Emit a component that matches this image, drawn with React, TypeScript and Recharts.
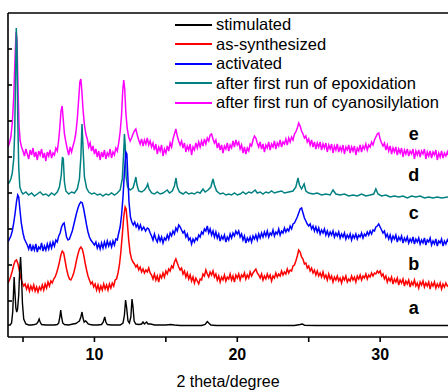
import React from "react"
import { LineChart, Line, XAxis, YAxis, Legend, ReferenceDot } from "recharts"

// 2 theta (deg) vs intensity (arb. units, offset per pattern)
const stimulated: [number, number][] = [
  [3.95, 12], [4.1, 12], [4.2, 14], [4.28, 25], [4.34, 46], [4.38, 60], [4.43, 46], [4.5, 29], [4.56, 25], [4.62, 28],
  [4.7, 42], [4.77, 68], [4.83, 80], [4.89, 63], [4.96, 34], [5.05, 18], [5.2, 13], [5.4, 12], [5.6, 12], [5.8, 12.5],
  [5.95, 13], [6.05, 15], [6.13, 18], [6.2, 15], [6.3, 12.5], [6.6, 12], [6.9, 12], [7.2, 12], [7.4, 12.5], [7.5, 14],
  [7.58, 20], [7.64, 27], [7.7, 20], [7.78, 14], [7.9, 12.5], [8.2, 12], [8.5, 13], [8.7, 13.5], [8.85, 15], [8.95, 16],
  [9.05, 20], [9.13, 25], [9.2, 19], [9.28, 15], [9.38, 16], [9.46, 15], [9.56, 13], [9.7, 12.5], [9.9, 12], [10.2, 12],
  [10.5, 12.5], [10.62, 15], [10.72, 20], [10.8, 15], [10.9, 12.5], [11.2, 12], [11.5, 12], [11.8, 12], [12.0, 14], [12.1, 22],
  [12.18, 37], [12.25, 30], [12.35, 16], [12.45, 14], [12.55, 20], [12.63, 38], [12.7, 30], [12.78, 16], [12.9, 13], [13.1, 12.5],
  [13.3, 13], [13.4, 15], [13.5, 13], [13.65, 15], [13.75, 13], [13.95, 13], [14.2, 12], [14.6, 12], [15.0, 12], [15.35, 12.5],
  [15.6, 12], [16.0, 11.5], [16.5, 11.5], [17.0, 11.5], [17.5, 11.5], [17.75, 12.5], [17.9, 15.5], [18.0, 14], [18.15, 12], [18.5, 11.5],
  [19.0, 11.5], [20.0, 11.5], [21.0, 11.5], [22.0, 11.5], [23.0, 11.5], [24.0, 11.5], [24.4, 12.5], [24.55, 13], [24.7, 11.8], [25.5, 11.5],
  [27.0, 11.5], [28.5, 11.5], [30.0, 11.5], [31.5, 11.5], [33.0, 11.5], [34.75, 11.5],
]

const asSynthesized: [number, number][] = [
  [3.95, 54], [4.05, 57], [4.15, 61], [4.25, 66], [4.35, 72], [4.45, 76], [4.55, 77], [4.65, 73], [4.75, 66], [4.85, 59],
  [4.95, 54], [5.05, 51], [5.15, 53], [5.25, 48], [5.35, 52], [5.45, 46], [5.55, 51], [5.65, 47], [5.75, 52], [5.85, 46],
  [5.95, 50], [6.05, 45], [6.15, 50], [6.25, 47], [6.35, 52], [6.45, 47], [6.55, 53], [6.65, 49], [6.75, 55], [6.85, 51],
  [6.95, 56], [7.05, 54], [7.15, 58], [7.25, 60], [7.35, 64], [7.45, 69], [7.55, 75], [7.65, 82], [7.75, 86], [7.85, 84],
  [7.95, 76], [8.05, 68], [8.15, 62], [8.25, 58], [8.35, 57], [8.45, 60], [8.55, 64], [8.65, 70], [8.75, 77], [8.85, 83],
  [8.95, 88], [9.05, 90], [9.15, 88], [9.25, 82], [9.35, 74], [9.45, 67], [9.55, 61], [9.65, 57], [9.75, 53], [9.85, 55],
  [9.95, 50], [10.05, 53], [10.15, 47], [10.25, 52], [10.35, 46], [10.45, 51], [10.55, 47], [10.65, 53], [10.75, 48], [10.85, 52],
  [10.95, 47], [11.05, 53], [11.15, 49], [11.25, 54], [11.35, 51], [11.45, 57], [11.55, 58], [11.65, 64], [11.75, 72], [11.85, 85],
  [11.95, 102], [12.05, 120], [12.15, 130], [12.22, 128], [12.3, 115], [12.4, 97], [12.5, 84], [12.6, 78], [12.7, 75], [12.8, 73],
  [12.9, 70], [13.0, 72], [13.1, 67], [13.2, 70], [13.3, 65], [13.4, 68], [13.5, 64], [13.6, 67], [13.7, 65], [13.8, 69],
  [13.9, 64], [14.0, 62], [14.1, 58], [14.2, 63], [14.3, 57], [14.4, 61], [14.5, 55], [14.6, 62], [14.7, 59], [14.8, 64],
  [14.9, 60], [15.0, 66], [15.1, 63], [15.2, 68], [15.3, 66], [15.4, 71], [15.5, 69], [15.6, 75], [15.7, 78], [15.8, 74],
  [15.9, 70], [16.0, 67], [16.1, 69], [16.2, 63], [16.3, 66], [16.4, 60], [16.5, 64], [16.6, 58], [16.7, 62], [16.8, 56],
  [16.9, 60], [17.0, 54], [17.1, 59], [17.2, 56], [17.3, 53], [17.4, 58], [17.5, 57], [17.6, 63], [17.7, 61], [17.8, 67],
  [17.9, 63], [18.0, 60], [18.1, 65], [18.2, 62], [18.3, 66], [18.4, 60], [18.5, 63], [18.6, 57], [18.7, 61], [18.8, 55],
  [18.9, 60], [19.0, 57], [19.1, 62], [19.2, 56], [19.3, 60], [19.4, 58], [19.5, 63], [19.6, 57], [19.7, 61], [19.8, 55],
  [19.9, 62], [20.0, 59], [20.1, 63], [20.2, 57], [20.3, 62], [20.4, 60], [20.5, 64], [20.6, 58], [20.7, 62], [20.8, 59],
  [20.9, 65], [21.0, 61], [21.1, 64], [21.2, 66], [21.3, 68], [21.4, 64], [21.5, 62], [21.6, 59], [21.7, 63], [21.8, 57],
  [21.9, 61], [22.0, 58], [22.1, 63], [22.2, 59], [22.3, 62], [22.4, 56], [22.5, 61], [22.6, 59], [22.7, 64], [22.8, 60],
  [22.9, 63], [23.0, 61], [23.1, 66], [23.2, 62], [23.3, 65], [23.4, 63], [23.5, 68], [23.6, 64], [23.7, 67], [23.8, 66],
  [23.9, 71], [24.0, 72], [24.1, 76], [24.2, 81], [24.3, 87], [24.4, 85], [24.5, 80], [24.6, 78], [24.7, 73], [24.8, 74],
  [24.9, 69], [25.0, 71], [25.1, 66], [25.2, 69], [25.3, 64], [25.4, 67], [25.5, 62], [25.6, 66], [25.7, 61], [25.8, 64],
  [25.9, 60], [26.0, 65], [26.1, 59], [26.2, 62], [26.3, 57], [26.4, 63], [26.5, 58], [26.6, 61], [26.7, 55], [26.8, 60],
  [26.9, 57], [27.0, 61], [27.1, 56], [27.2, 59], [27.3, 54], [27.4, 60], [27.5, 57], [27.6, 61], [27.7, 55], [27.8, 58],
  [27.9, 56], [28.0, 61], [28.1, 57], [28.2, 60], [28.3, 55], [28.4, 61], [28.5, 58], [28.6, 62], [28.7, 57], [28.8, 61],
  [28.9, 59], [29.0, 63], [29.1, 58], [29.2, 62], [29.3, 60], [29.4, 64], [29.5, 61], [29.6, 64], [29.7, 63], [29.8, 66],
  [29.9, 64], [30.0, 66], [30.1, 61], [30.2, 63], [30.3, 58], [30.4, 61], [30.5, 55], [30.6, 59], [30.7, 56], [30.8, 60],
  [30.9, 53], [31.0, 58], [31.1, 55], [31.2, 59], [31.3, 52], [31.4, 57], [31.5, 54], [31.6, 58], [31.7, 51], [31.8, 56],
  [31.9, 53], [32.0, 57], [32.1, 50], [32.2, 55], [32.3, 52], [32.4, 57], [32.5, 51], [32.6, 54], [32.7, 49], [32.8, 55],
  [32.9, 52], [33.0, 56], [33.1, 50], [33.2, 54], [33.3, 51], [33.4, 55], [33.5, 48], [33.6, 54], [33.7, 51], [33.8, 55],
  [33.9, 49], [34.0, 53], [34.1, 50], [34.2, 54], [34.3, 48], [34.4, 53], [34.5, 50], [34.6, 54], [34.7, 51], [34.75, 52],
]

const activated: [number, number][] = [
  [3.95, 95], [4.05, 98], [4.15, 101], [4.25, 106], [4.35, 114], [4.45, 124], [4.55, 136], [4.63, 142], [4.7, 140], [4.78, 128],
  [4.88, 114], [5.0, 104], [5.1, 98], [5.2, 95], [5.3, 92], [5.4, 88], [5.5, 93], [5.6, 86], [5.7, 91], [5.8, 87],
  [5.9, 93], [6.0, 85], [6.1, 90], [6.2, 88], [6.3, 94], [6.4, 86], [6.5, 91], [6.6, 87], [6.7, 93], [6.8, 88],
  [6.9, 94], [7.0, 89], [7.1, 95], [7.2, 91], [7.3, 97], [7.4, 95], [7.5, 101], [7.6, 104], [7.7, 110], [7.8, 113],
  [7.88, 114], [7.96, 107], [8.05, 100], [8.15, 97], [8.25, 98], [8.35, 102], [8.45, 106], [8.55, 112], [8.65, 118], [8.75, 124],
  [8.85, 129], [8.95, 133], [9.05, 135], [9.15, 134], [9.25, 128], [9.35, 120], [9.45, 112], [9.55, 105], [9.65, 100], [9.75, 97],
  [9.85, 95], [10.0, 92], [10.1, 95], [10.2, 89], [10.3, 93], [10.4, 88], [10.5, 94], [10.6, 89], [10.7, 95], [10.8, 90],
  [10.9, 96], [11.0, 91], [11.1, 95], [11.2, 90], [11.3, 96], [11.4, 92], [11.5, 98], [11.6, 97], [11.7, 104], [11.8, 110],
  [11.9, 122], [12.0, 140], [12.1, 165], [12.2, 185], [12.27, 183], [12.34, 160], [12.42, 135], [12.52, 120], [12.62, 115], [12.72, 112],
  [12.82, 115], [12.92, 110], [13.02, 113], [13.12, 108], [13.22, 112], [13.32, 107], [13.45, 110], [13.58, 106], [13.7, 109], [13.8, 108],
  [13.9, 104], [14.0, 101], [14.1, 97], [14.2, 103], [14.3, 98], [14.4, 95], [14.5, 101], [14.6, 96], [14.7, 100], [14.8, 94],
  [14.9, 99], [15.0, 97], [15.1, 102], [15.2, 98], [15.3, 104], [15.4, 101], [15.5, 106], [15.6, 103], [15.7, 109], [15.8, 106],
  [15.9, 112], [16.0, 110], [16.1, 107], [16.2, 104], [16.3, 106], [16.4, 100], [16.5, 103], [16.6, 97], [16.7, 99], [16.8, 93],
  [16.9, 98], [17.0, 95], [17.1, 99], [17.2, 97], [17.3, 102], [17.4, 100], [17.5, 105], [17.6, 103], [17.7, 108], [17.8, 106],
  [17.9, 111], [18.0, 104], [18.1, 108], [18.2, 102], [18.3, 106], [18.4, 100], [18.5, 105], [18.6, 99], [18.7, 103], [18.8, 96],
  [18.9, 101], [19.0, 98], [19.1, 102], [19.2, 95], [19.3, 100], [19.4, 97], [19.5, 103], [19.6, 99], [19.7, 104], [19.8, 101],
  [19.9, 106], [20.0, 103], [20.1, 106], [20.2, 100], [20.3, 103], [20.4, 97], [20.5, 101], [20.6, 94], [20.7, 99], [20.8, 96],
  [20.9, 100], [21.0, 95], [21.1, 101], [21.2, 98], [21.3, 102], [21.4, 97], [21.5, 103], [21.6, 99], [21.7, 104], [21.8, 100],
  [21.9, 105], [22.0, 101], [22.1, 106], [22.2, 100], [22.3, 104], [22.4, 102], [22.5, 107], [22.6, 101], [22.7, 105], [22.8, 103],
  [22.9, 108], [23.0, 102], [23.1, 106], [23.2, 104], [23.3, 109], [23.4, 105], [23.5, 108], [23.6, 106], [23.7, 111], [23.8, 108],
  [23.9, 113], [24.0, 114], [24.1, 117], [24.2, 120], [24.3, 124], [24.4, 128], [24.5, 129], [24.6, 124], [24.7, 119], [24.8, 116],
  [24.9, 113], [25.0, 111], [25.1, 113], [25.2, 108], [25.3, 111], [25.4, 106], [25.5, 110], [25.6, 105], [25.7, 109], [25.8, 103],
  [25.9, 107], [26.0, 104], [26.1, 108], [26.2, 102], [26.3, 106], [26.4, 101], [26.5, 105], [26.6, 102], [26.7, 106], [26.8, 100],
  [26.9, 104], [27.0, 101], [27.1, 105], [27.2, 99], [27.3, 103], [27.4, 100], [27.5, 104], [27.6, 98], [27.7, 102], [27.8, 99],
  [27.9, 103], [28.0, 97], [28.1, 102], [28.2, 99], [28.3, 103], [28.4, 98], [28.5, 102], [28.6, 100], [28.7, 104], [28.8, 99],
  [28.9, 103], [29.0, 101], [29.1, 105], [29.2, 102], [29.3, 106], [29.4, 103], [29.5, 107], [29.6, 106], [29.7, 110], [29.8, 111],
  [29.9, 113], [30.0, 110], [30.1, 107], [30.2, 104], [30.3, 106], [30.4, 100], [30.5, 103], [30.6, 98], [30.7, 102], [30.8, 96],
  [30.9, 101], [31.0, 98], [31.1, 102], [31.2, 95], [31.3, 100], [31.4, 97], [31.5, 101], [31.6, 94], [31.7, 99], [31.8, 96],
  [31.9, 100], [32.0, 94], [32.1, 98], [32.2, 95], [32.3, 100], [32.4, 93], [32.5, 98], [32.6, 95], [32.7, 99], [32.8, 93],
  [32.9, 97], [33.0, 94], [33.1, 99], [33.2, 92], [33.3, 97], [33.4, 95], [33.5, 99], [33.6, 92], [33.7, 96], [33.8, 93],
  [33.9, 98], [34.0, 91], [34.1, 96], [34.2, 94], [34.3, 98], [34.4, 91], [34.5, 96], [34.6, 93], [34.7, 97], [34.75, 95],
]

const epoxidation: [number, number][] = [
  [3.95, 153], [4.05, 155], [4.15, 158], [4.25, 164], [4.35, 178], [4.42, 205], [4.48, 260], [4.53, 309], [4.58, 290], [4.63, 220],
  [4.7, 170], [4.78, 150], [4.9, 145], [5.0, 143], [5.2, 145], [5.4, 142], [5.6, 144], [5.8, 141], [6.0, 143], [6.2, 145],
  [6.4, 142], [6.6, 143], [6.8, 141], [7.0, 144], [7.2, 142], [7.4, 145], [7.55, 150], [7.68, 162], [7.76, 180], [7.82, 178],
  [7.9, 155], [8.0, 146], [8.2, 143], [8.4, 145], [8.6, 144], [8.8, 148], [8.95, 158], [9.05, 180], [9.13, 213], [9.2, 190],
  [9.3, 160], [9.45, 149], [9.6, 145], [9.8, 143], [10.0, 144], [10.2, 142], [10.4, 143], [10.6, 141], [10.8, 143], [11.0, 142],
  [11.2, 144], [11.4, 142], [11.6, 144], [11.8, 147], [11.95, 158], [12.05, 185], [12.1, 203], [12.16, 190], [12.22, 160], [12.32, 150],
  [12.5, 147], [12.7, 149], [12.82, 155], [12.9, 160], [12.98, 152], [13.1, 146], [13.3, 145], [13.5, 147], [13.65, 150], [13.73, 153],
  [13.82, 148], [14.0, 144], [14.2, 143], [14.4, 145], [14.6, 143], [14.8, 144], [15.0, 146], [15.1, 147], [15.25, 144], [15.45, 146],
  [15.6, 151], [15.71, 159], [15.8, 150], [15.95, 145], [16.2, 143], [16.4, 145], [16.6, 143], [16.8, 144], [17.0, 143], [17.2, 145],
  [17.4, 144], [17.6, 148], [17.75, 145], [17.95, 147], [18.15, 150], [18.3, 158], [18.4, 152], [18.55, 146], [18.8, 143], [19.0, 144],
  [19.2, 142], [19.4, 143], [19.6, 142], [19.8, 144], [20.0, 142], [20.2, 143], [20.4, 145], [20.6, 143], [20.8, 145], [21.0, 144],
  [21.25, 147], [21.4, 144], [21.6, 145], [21.8, 143], [22.0, 145], [22.2, 144], [22.4, 146], [22.6, 144], [22.8, 145], [23.1, 146],
  [23.3, 144], [23.6, 145], [23.9, 146], [24.1, 150], [24.25, 159], [24.35, 152], [24.5, 148], [24.68, 153], [24.8, 146], [25.0, 144],
  [25.3, 143], [25.6, 144], [25.9, 142], [26.2, 143], [26.5, 142], [26.7, 147], [26.9, 143], [27.2, 142], [27.5, 143], [27.8, 141],
  [28.1, 142], [28.4, 141], [28.7, 143], [29.0, 141], [29.3, 142], [29.55, 143], [29.7, 148], [29.85, 143], [30.1, 141], [30.4, 142],
  [30.7, 140], [31.0, 141], [31.3, 140], [31.6, 141], [31.9, 139], [32.2, 141], [32.5, 140], [32.8, 141], [33.1, 139], [33.4, 140],
  [33.7, 139], [34.0, 140], [34.3, 139], [34.75, 140],
]

const cyanosilylation: [number, number][] = [
  [3.95, 190], [4.05, 194], [4.15, 200], [4.25, 214], [4.35, 240], [4.45, 282], [4.52, 305], [4.58, 296], [4.65, 250], [4.72, 212],
  [4.8, 196], [4.9, 190], [5.0, 186], [5.1, 181], [5.2, 188], [5.3, 183], [5.4, 178], [5.5, 187], [5.6, 182], [5.7, 189],
  [5.8, 180], [5.9, 185], [6.0, 177], [6.1, 186], [6.2, 182], [6.3, 188], [6.4, 179], [6.5, 184], [6.6, 176], [6.7, 185],
  [6.8, 181], [6.9, 187], [7.0, 179], [7.1, 184], [7.2, 182], [7.3, 189], [7.4, 186], [7.5, 197], [7.58, 210], [7.66, 226],
  [7.74, 231], [7.82, 217], [7.9, 203], [8.0, 195], [8.1, 188], [8.2, 182], [8.3, 190], [8.4, 185], [8.5, 191], [8.6, 196],
  [8.7, 204], [8.8, 218], [8.9, 238], [8.98, 255], [9.05, 258], [9.12, 246], [9.2, 228], [9.3, 212], [9.4, 203], [9.5, 198],
  [9.6, 190], [9.7, 194], [9.8, 186], [9.9, 191], [10.0, 183], [10.1, 188], [10.2, 180], [10.3, 186], [10.4, 177], [10.5, 185],
  [10.6, 180], [10.7, 187], [10.8, 178], [10.9, 184], [11.0, 181], [11.1, 188], [11.2, 179], [11.3, 185], [11.4, 182], [11.5, 189],
  [11.6, 186], [11.7, 194], [11.8, 205], [11.9, 222], [11.98, 246], [12.05, 257], [12.12, 248], [12.2, 224], [12.3, 208], [12.4, 200],
  [12.5, 196], [12.6, 199], [12.7, 203], [12.8, 206], [12.9, 208], [13.0, 202], [13.1, 197], [13.2, 193], [13.3, 198], [13.4, 191],
  [13.5, 197], [13.6, 193], [13.7, 199], [13.8, 192], [13.9, 196], [14.0, 190], [14.1, 194], [14.2, 187], [14.3, 193], [14.4, 183],
  [14.5, 190], [14.6, 186], [14.7, 192], [14.8, 181], [14.9, 188], [15.0, 184], [15.1, 191], [15.2, 186], [15.3, 194], [15.4, 190],
  [15.5, 198], [15.6, 203], [15.7, 208], [15.8, 201], [15.9, 196], [16.0, 192], [16.1, 196], [16.2, 189], [16.3, 194], [16.4, 185],
  [16.5, 191], [16.6, 187], [16.7, 193], [16.8, 182], [16.9, 190], [17.0, 187], [17.1, 194], [17.2, 189], [17.3, 195], [17.4, 190],
  [17.5, 196], [17.6, 191], [17.7, 198], [17.8, 193], [17.9, 199], [18.0, 196], [18.1, 202], [18.2, 203], [18.3, 198], [18.4, 194],
  [18.5, 197], [18.6, 189], [18.7, 194], [18.8, 187], [18.9, 192], [19.0, 184], [19.1, 191], [19.2, 188], [19.3, 194], [19.4, 186],
  [19.5, 192], [19.6, 189], [19.7, 196], [19.8, 190], [19.9, 197], [20.0, 192], [20.1, 195], [20.2, 188], [20.3, 192], [20.4, 184],
  [20.5, 190], [20.6, 183], [20.7, 189], [20.8, 186], [20.9, 193], [21.0, 191], [21.1, 197], [21.2, 201], [21.3, 199], [21.4, 194],
  [21.5, 190], [21.6, 195], [21.7, 188], [21.8, 193], [21.9, 185], [22.0, 192], [22.1, 189], [22.2, 195], [22.3, 187], [22.4, 193],
  [22.5, 190], [22.6, 196], [22.7, 188], [22.8, 194], [22.9, 191], [23.0, 197], [23.1, 190], [23.2, 195], [23.3, 193], [23.4, 198],
  [23.5, 192], [23.6, 199], [23.7, 195], [23.8, 200], [23.9, 197], [24.0, 203], [24.1, 205], [24.2, 209], [24.3, 214], [24.4, 211],
  [24.5, 206], [24.6, 203], [24.7, 199], [24.8, 201], [24.9, 195], [25.0, 198], [25.1, 192], [25.2, 197], [25.3, 190], [25.4, 195],
  [25.5, 188], [25.6, 194], [25.7, 190], [25.8, 195], [25.9, 187], [26.0, 193], [26.1, 189], [26.2, 194], [26.3, 185], [26.4, 192],
  [26.5, 188], [26.6, 193], [26.7, 184], [26.8, 191], [26.9, 187], [27.0, 193], [27.1, 185], [27.2, 190], [27.3, 186], [27.4, 192],
  [27.5, 183], [27.6, 190], [27.7, 187], [27.8, 192], [27.9, 184], [28.0, 190], [28.1, 186], [28.2, 191], [28.3, 182], [28.4, 189],
  [28.5, 186], [28.6, 192], [28.7, 185], [28.8, 191], [28.9, 188], [29.0, 193], [29.1, 187], [29.2, 192], [29.3, 190], [29.4, 195],
  [29.5, 192], [29.6, 197], [29.7, 200], [29.8, 203], [29.9, 204], [30.0, 198], [30.1, 194], [30.2, 191], [30.3, 194], [30.4, 187],
  [30.5, 192], [30.6, 186], [30.7, 191], [30.8, 183], [30.9, 189], [31.0, 185], [31.1, 190], [31.2, 182], [31.3, 188], [31.4, 184],
  [31.5, 189], [31.6, 180], [31.7, 187], [31.8, 183], [31.9, 188], [32.0, 181], [32.1, 186], [32.2, 183], [32.3, 188], [32.4, 178],
  [32.5, 186], [32.6, 182], [32.7, 187], [32.8, 180], [32.9, 186], [33.0, 183], [33.1, 188], [33.2, 178], [33.3, 185], [33.4, 181],
  [33.5, 186], [33.6, 179], [33.7, 185], [33.8, 182], [33.9, 187], [34.0, 177], [34.1, 184], [34.2, 180], [34.3, 186], [34.4, 179],
  [34.5, 184], [34.6, 181], [34.7, 185], [34.75, 182],
]

const xTicks = [5, 10, 15, 20, 25, 30]
const xLabelled = [10, 20, 30]
const yTicks = [36, 72, 108, 144, 180, 216, 252, 288]
const letters = ["a", "b", "c", "d", "e"]
const letterLevels = [29, 73, 124, 162, 203]

const series = [
  { name: "stimulated", color: "#000000", data: stimulated },
  { name: "as-synthesized", color: "#ff0000", data: asSynthesized },
  { name: "activated", color: "#0000ff", data: activated },
  { name: "after first run of epoxidation", color: "#008080", data: epoxidation },
  { name: "after first run of cyanosilylation", color: "#ff00ff", data: cyanosilylation },
]

const FONT = "'Liberation Sans', Arial, sans-serif"

function LegendBox() {
  return (
    <div style={{ fontFamily: FONT, fontSize: 16.5, color: "#000" }}>
      {series.map((s) => (
        <div key={s.name} style={{ display: "flex", alignItems: "center", height: 19.5, whiteSpace: "nowrap" }}>
          <svg width={41} height={4} style={{ flex: "none" }}>
            <line x1={0} x2={37} y1={2} y2={2} stroke={s.color} strokeWidth={2} />
          </svg>
          <span>{s.name}</span>
        </div>
      ))}
    </div>
  )
}

export default function App() {
  return (
    <div style={{ position: "fixed", left: 0, top: 0, width: 448, height: 390, overflow: "hidden", background: "#fff" }}>
      <LineChart width={448} height={390} margin={{ top: 8, right: 0, left: 7, bottom: 0 }}>
        <XAxis
          xAxisId="top"
          orientation="top"
          type="number"
          dataKey="x"
          domain={[3.95, 34.75]}
          ticks={xTicks}
          height={5}
          tickSize={3}
          tickFormatter={() => ""}
          stroke="#000"
          strokeWidth={1.6}
        />
        <XAxis
          type="number"
          dataKey="x"
          domain={[3.95, 34.75]}
          allowDataOverflow
          ticks={xTicks}
          height={53}
          tickSize={5}
          tickMargin={7}
          tickFormatter={(v: number) => (xLabelled.includes(v) ? String(v) : "")}
          tick={{ fill: "#000", fontSize: 16, fontWeight: 700, fontFamily: FONT }}
          stroke="#000"
          strokeWidth={1.6}
          label={{ value: "2 theta/degree", position: "insideBottom", offset: 3, fill: "#000", fontSize: 16, fontFamily: FONT }}
        />
        <YAxis
          type="number"
          domain={[0, 324]}
          ticks={yTicks}
          width={1}
          tickSize={-4}
          tickFormatter={() => ""}
          stroke="#000"
          strokeWidth={1.6}
        />
        <Legend
          layout="vertical"
          align="center"
          verticalAlign="middle"
          wrapperStyle={{ position: "absolute", left: 175, top: 15, width: 270, height: 100 }}
          content={() => <LegendBox />}
        />
        {[...series].reverse().map((s) => (
          <Line
            key={s.name}
            name={s.name}
            data={s.data.map(([x, y]) => ({ x, y }))}
            dataKey="y"
            stroke={s.color}
            strokeWidth={s.name === "stimulated" ? 1.4 : 1.5}
            dot={false}
            activeDot={false}
            isAnimationActive={false}
          />
        ))}
        {letters.map((l, i) => (
          <ReferenceDot
            key={l}
            x={32.35}
            y={letterLevels[i]}
            r={0}
            fill="none"
            stroke="none"
            label={{ value: l, position: "center", fill: "#000", fontSize: 18, fontWeight: 700, fontFamily: FONT }}
          />
        ))}
      </LineChart>
    </div>
  )
}
